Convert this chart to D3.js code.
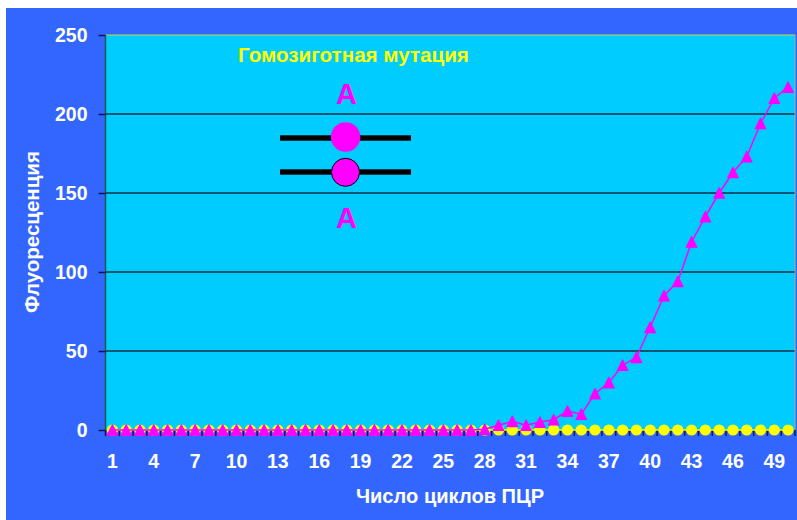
<!DOCTYPE html>
<html>
<head>
<meta charset="utf-8">
<script src="https://cdn.jsdelivr.net/npm/d3@7"></script>
<style>
html,body{margin:0;padding:0;background:#fff;}
svg{display:block;}
text{font-family:"Liberation Sans",Arial,sans-serif;font-weight:bold;}
</style>
</head>
<body>
<svg id="chart" width="797" height="520"></svg>
<script>
// PCR amplification curves: fluorescence per cycle
const cycles = d3.range(1, 51);
const mutantValues = [0,0,0,0,0,0,0,0,0,0,0,0,0,0,0,0,0,0,0,0,0,0,0,0,0,0,0,0.5,3,5.5,3,5,6.5,12,10,23,30,41,46,65,85,94,119,135,150,163,173,194,210,217];
const normalValues = cycles.map(() => 0);
const yTicks = [0,50,100,150,200,250];
const xTickLabels = [1,4,7,10,13,16,19,22,25,28,31,34,37,40,43,46,49];
const chartTitle = "Гомозиготная мутация";
const xTitle = "Число циклов ПЦР";
const yTitle = "Флуоресценция";
const alleleLabel = "А";

const svg = d3.select("#chart");
const plot = {left:105.5, right:795, top:35, bottom:430};

svg.append("rect").attr("x",6).attr("y",8).attr("width",791).attr("height",512).attr("fill","#3366ff");
svg.append("rect").attr("x",plot.left).attr("y",plot.top)
   .attr("width",plot.right-plot.left).attr("height",plot.bottom-plot.top).attr("fill","#00ccff");

const x = d3.scaleBand().domain(cycles).range([plot.left,plot.right]);
const y = d3.scaleLinear().domain([0,250]).range([plot.bottom,plot.top]);
const cx = d => x(d)+x.bandwidth()/2;

// gridlines
svg.append("g").selectAll("line").data(yTicks.filter(t=>t>0&&t<250)).join("line")
   .attr("x1",plot.left).attr("x2",plot.right).attr("y1",d=>y(d)).attr("y2",d=>y(d))
   .attr("stroke","#00303f").attr("stroke-width",1.5);

// plot frame
svg.append("line").attr("x1",plot.left).attr("x2",plot.right).attr("y1",plot.top).attr("y2",plot.top).attr("stroke","#cfd84a");
svg.append("line").attr("x1",plot.right).attr("x2",plot.right).attr("y1",plot.top).attr("y2",plot.bottom).attr("stroke","#9fb890");
svg.append("line").attr("x1",plot.left).attr("x2",plot.left).attr("y1",plot.top).attr("y2",plot.bottom).attr("stroke","#1e5a4a").attr("stroke-width",1.5);

// y axis
const yAxis = svg.append("g").attr("transform",`translate(${plot.left},0)`)
   .call(d3.axisLeft(y).tickValues(yTicks).tickSize(7).tickSizeOuter(0).tickPadding(11));
yAxis.select(".domain").remove();
yAxis.selectAll("line").attr("stroke","#0a1a50").attr("stroke-width",1.5);
yAxis.selectAll("text").attr("fill","#fff").style("font-size","19.5px");

// x axis
const xAxisY = plot.bottom;
svg.append("line").attr("x1",plot.left).attr("x2",plot.right).attr("y1",xAxisY).attr("y2",xAxisY).attr("stroke","#8a7a50");
svg.append("g").selectAll("line").data(d3.range(0,51)).join("line")
   .attr("x1",i=>plot.left+i*x.bandwidth()).attr("x2",i=>plot.left+i*x.bandwidth())
   .attr("y1",xAxisY).attr("y2",xAxisY+6).attr("stroke","#0a1a50").attr("stroke-width",1.5);
svg.append("g").selectAll("text").data(xTickLabels).join("text")
   .attr("x",d=>cx(d)).attr("y",468).attr("text-anchor","middle")
   .attr("fill","#fff").style("font-size","19.5px").text(d=>d);

// normal allele series: yellow circles
svg.append("path").datum(normalValues)
   .attr("fill","none").attr("stroke","#ffff00").attr("stroke-width",1.5)
   .attr("d",d3.line().x((d,i)=>cx(cycles[i])).y(d=>y(d)));
svg.append("g").selectAll("circle").data(normalValues).join("circle")
   .attr("cx",(d,i)=>cx(cycles[i])).attr("cy",d=>y(d)).attr("r",5.6).attr("fill","#ffff00");

// mutant allele series: magenta triangles
svg.append("path").datum(mutantValues)
   .attr("fill","none").attr("stroke","#ff00ff").attr("stroke-width",1.5)
   .attr("d",d3.line().x((d,i)=>cx(cycles[i])).y(d=>y(d)));
// triangle marker centred on its bounding box, apex up
const boxTriangle = {
  draw(ctx, size) {
    const r = Math.sqrt(size) / 2;
    ctx.moveTo(0, -r);
    ctx.lineTo(r, r);
    ctx.lineTo(-r, r);
    ctx.closePath();
  }
};
svg.append("g").selectAll("path").data(mutantValues).join("path")
   .attr("d",d3.symbol().type(boxTriangle).size(110)).attr("fill","#ff00ff")
   .attr("stroke","#ff00ff").attr("stroke-width",1.2).attr("stroke-linejoin","round")
   .attr("transform",(d,i)=>`translate(${cx(cycles[i])},${y(d)})`);

// axis titles
svg.append("text").attr("x",450).attr("y",503).attr("text-anchor","middle")
   .attr("fill","#fff").style("font-size","20.1px").text(xTitle);
svg.append("text").attr("transform","translate(39,232) rotate(-90)").attr("text-anchor","middle")
   .attr("fill","#fff").style("font-size","20.5px").text(yTitle);

// annotation: title and homozygous allele diagram
svg.append("text").attr("x",353.5).attr("y",62).attr("text-anchor","middle")
   .attr("fill","#ffff00").style("font-size","20.6px").text(chartTitle);
svg.append("text").attr("x",346.5).attr("y",104).attr("text-anchor","middle")
   .attr("fill","#ff00ff").style("font-size","29px").text(alleleLabel);
svg.append("text").attr("x",346.5).attr("y",228).attr("text-anchor","middle")
   .attr("fill","#ff00ff").style("font-size","29px").text(alleleLabel);
svg.append("rect").attr("x",280).attr("y",135.3).attr("width",131).attr("height",5.4).attr("fill","#000");
svg.append("rect").attr("x",280).attr("y",169.3).attr("width",131).attr("height",5.4).attr("fill","#000");
svg.append("circle").attr("cx",345.6).attr("cy",137).attr("r",14.7).attr("fill","#ff00ff");
svg.append("circle").attr("cx",345.5).attr("cy",172.3).attr("r",14).attr("fill","#ff00ff").attr("stroke","#000").attr("stroke-width",1);
</script>
</body>
</html>
